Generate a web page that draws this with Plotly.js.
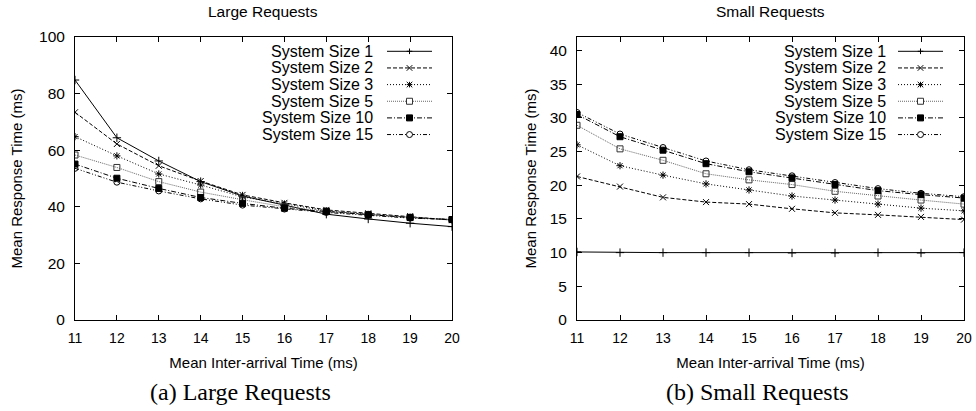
<!DOCTYPE html>
<html>
<head>
<meta charset="utf-8">
<script src="https://cdn.plot.ly/plotly-3.0.1.min.js"></script>
<style>html,body{margin:0;padding:0;background:#fff;}#chart{width:976px;height:411px;}</style>
</head>
<body>
<div id="chart"></div>
<script>
// Mean inter-arrival time (ms)
const interArrival = [11, 12, 13, 14, 15, 16, 17, 18, 19, 20];
const seriesNames = ["System Size 1", "System Size 2", "System Size 3", "System Size 5", "System Size 10", "System Size 15"];

// (a) Large requests: mean response time (ms)
const largeSize1  = [84.8, 64.4, 56.2, 48.9, 43.8, 40.5, 37.4, 35.7, 34.2, 33.0];
const largeSize2  = [73.4, 62.2, 54.5, 49.1, 44.2, 41.4, 38.9, 37.7, 36.7, 35.3];
const largeSize3  = [64.8, 58.0, 51.6, 47.7, 43.5, 41.0, 38.6, 37.3, 36.3, 35.3];
const largeSize5  = [58.3, 53.9, 48.9, 45.2, 42.5, 40.0, 38.5, 37.3, 36.3, 35.5];
const largeSize10 = [55.1, 50.1, 46.5, 43.3, 41.2, 39.5, 38.3, 37.2, 36.2, 35.5];
const largeSize15 = [53.6, 48.7, 45.6, 42.8, 40.6, 39.2, 38.0, 37.0, 36.0, 35.5];

// (b) Small requests: mean response time (ms)
const smallSize1  = [10.1, 10.0, 10.0, 10.0, 10.0, 9.95, 9.95, 10.0, 9.95, 10.0];
const smallSize2  = [21.3, 19.8, 18.2, 17.5, 17.2, 16.5, 15.9, 15.6, 15.3, 14.9];
const smallSize3  = [26.0, 22.9, 21.5, 20.2, 19.3, 18.4, 17.8, 17.2, 16.6, 16.2];
const smallSize5  = [28.9, 25.4, 23.7, 21.7, 20.8, 20.1, 19.1, 18.4, 17.8, 17.2];
const smallSize10 = [30.5, 27.2, 25.2, 23.2, 22.0, 21.1, 20.1, 19.2, 18.6, 18.1];
const smallSize15 = [30.8, 27.6, 25.6, 23.6, 22.3, 21.4, 20.4, 19.5, 18.8, 18.3];

const largeTicks = [0, 20, 40, 60, 80, 100];
const smallTicks = [0, 5, 10, 15, 20, 25, 30, 35, 40];

const largeSeries = [largeSize1, largeSize2, largeSize3, largeSize5, largeSize10, largeSize15];
const smallSeries = [smallSize1, smallSize2, smallSize3, smallSize5, smallSize10, smallSize15];

const styles = [
  {dash: "solid", symbol: "cross-thin", color: "#000", key: "plus"},
  {dash: "4px,2px", symbol: "x-thin", color: "#000", key: "x"},
  {dash: "1px,2px", symbol: "asterisk", color: "#000", key: "star"},
  {dash: "1px,1px", symbol: "square-open", color: "#666", key: "sqopen"},
  {dash: "5px,2px,1px,2px", symbol: "square", color: "#000", key: "sq"},
  {dash: "4px,2px,1px,2px,1px,2px", symbol: "circle-open", color: "#000", key: "circ"}
];

const traces = [];
function addSet(series, xa, ya) {
  series.forEach((ys, i) => {
    const s = styles[i];
    traces.push({
      type: "scatter", mode: "lines+markers",
      x: interArrival, y: ys, name: seriesNames[i],
      xaxis: xa, yaxis: ya, showlegend: false,
      line: {color: s.color, width: 1, dash: s.dash},
      marker: {symbol: s.symbol, size: 6, color: s.color === "#666" ? "#333" : s.color,
               line: {color: s.color === "#666" ? "#333" : s.color, width: 1}}
    });
  });
}
addSet(largeSeries, "x", "y");
addSet(smallSeries, "x2", "y2");

const font = "Liberation Sans, Arial, Helvetica, sans-serif";
const serif = "Liberation Serif, Times New Roman, serif";
const W = 976, H = 411;
const px = v => v / W, py = v => (H - v) / H;

const axisCommon = {
  showline: true, linecolor: "#000", linewidth: 1, mirror: "ticks",
  ticks: "inside", ticklen: 5, tickcolor: "#000", showgrid: false, zeroline: false
};
const xTickFont = {family: font, size: 14, color: "#000"};
const yTickFont = {family: font, size: 15.5, color: "#000"};
const xTitle = {text: "Mean Inter-arrival Time (ms)", font: {family: font, size: 15, color: "#000"}, standoff: 12};
const yTitleL = {text: "Mean Response Time (ms)", font: {family: font, size: 15, color: "#000"}, standoff: 12};
const yTitleR = {text: "Mean Response Time (ms)", font: {family: font, size: 15, color: "#000"}, standoff: 9};

// Hand-made legend in gnuplot style: right-aligned text, sample line on the right
const annotations = [
  {text: "Large Requests", xref: "paper", yref: "paper", x: px(263), y: py(12), xanchor: "center", yanchor: "middle", showarrow: false, font: {family: font, size: 15.5, color: "#000"}},
  {text: "Small Requests", xref: "paper", yref: "paper", x: px(770), y: py(12), xanchor: "center", yanchor: "middle", showarrow: false, font: {family: font, size: 15.5, color: "#000"}},
  {text: "(a) Large Requests", xref: "paper", yref: "paper", x: px(240), y: py(392), xanchor: "center", yanchor: "middle", showarrow: false, font: {family: serif, size: 24, color: "#000"}},
  {text: "(b) Small Requests", xref: "paper", yref: "paper", x: px(757), y: py(392), xanchor: "center", yanchor: "middle", showarrow: false, font: {family: serif, size: 24, color: "#000"}}
];
const shapes = [];
const legendBoxes = [
  {textRight: 375, lineStart: 387, lineEnd: 432},
  {textRight: 888, lineStart: 898, lineEnd: 943}
];
const rowTop = 51.3, rowStep = 16.65;
function markerShapes(key, cx, cy, color) {
  const r = 2.8, L = (x0, y0, x1, y1) => ({type: "line", xref: "paper", yref: "paper",
    x0: px(x0), y0: py(y0), x1: px(x1), y1: py(y1), line: {color: color, width: 1}});
  const box = (fill, rr) => ({type: key === "circ" ? "circle" : "rect", xref: "paper", yref: "paper",
    x0: px(cx - rr), x1: px(cx + rr), y0: py(cy + rr), y1: py(cy - rr),
    line: {color: color, width: 1}, fillcolor: fill});
  switch (key) {
    case "plus": return [L(cx - r, cy, cx + r, cy), L(cx, cy - r, cx, cy + r)];
    case "x": return [L(cx - r, cy - r, cx + r, cy + r), L(cx - r, cy + r, cx + r, cy - r)];
    case "star": return [L(cx - r, cy, cx + r, cy), L(cx, cy - r, cx, cy + r),
                         L(cx - r, cy - r, cx + r, cy + r), L(cx - r, cy + r, cx + r, cy - r)];
    case "sqopen": return [box("#fff", 3)];
    case "sq": return [box(color, 3)];
    case "circ": return [box("#fff", 3)];
  }
  return [];
}
legendBoxes.forEach(b => {
  seriesNames.forEach((name, i) => {
    const cy = rowTop + i * rowStep;
    const s = styles[i];
    annotations.push({text: name, xref: "paper", yref: "paper", x: px(b.textRight), y: py(cy),
      xanchor: "right", yanchor: "middle", showarrow: false, font: {family: font, size: 16, color: "#000"}});
    shapes.push({type: "line", xref: "paper", yref: "paper", x0: px(b.lineStart), x1: px(b.lineEnd),
      y0: py(cy), y1: py(cy), line: {color: s.color, width: 1, dash: s.dash}});
    const mc = s.color === "#666" ? "#333" : s.color;
    markerShapes(s.key, (b.lineStart + b.lineEnd) / 2, cy, mc).forEach(sh => shapes.push(sh));
  });
});

const layout = {
  width: W, height: H,
  margin: {l: 0, r: 0, t: 0, b: 0},
  paper_bgcolor: "#fff", plot_bgcolor: "#fff",
  font: {family: font, color: "#000"},
  showlegend: false,
  xaxis: Object.assign({}, axisCommon, {domain: [px(75), px(452)], range: [11, 20], tickvals: interArrival, tickfont: xTickFont, ticklabelstandoff: 5, anchor: "y", title: xTitle}),
  yaxis: Object.assign({}, axisCommon, {domain: [py(320), py(37)], range: [0, 100], tickvals: largeTicks, tickfont: yTickFont, ticklabelstandoff: 6, anchor: "x", title: yTitleL}),
  xaxis2: Object.assign({}, axisCommon, {domain: [px(577), px(964)], range: [11, 20], tickvals: interArrival, tickfont: xTickFont, ticklabelstandoff: 5, anchor: "y2", title: xTitle}),
  yaxis2: Object.assign({}, axisCommon, {domain: [py(320), py(37)], range: [0, 42], tickvals: smallTicks, tickfont: yTickFont, ticklabelstandoff: 6, anchor: "x2", title: yTitleR}),
  annotations: annotations,
  shapes: shapes
};

Plotly.newPlot("chart", traces, layout, {displayModeBar: false, staticPlot: true});
</script>
</body>
</html>
